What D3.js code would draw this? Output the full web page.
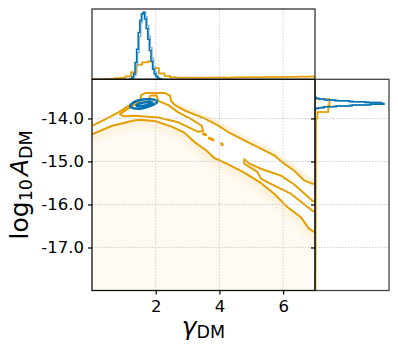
<!DOCTYPE html>
<html>
<head>
<meta charset="utf-8">
<script src="https://cdn.jsdelivr.net/npm/d3@7/dist/d3.min.js"></script>
<style>
  body { margin: 0; background: #fff; }
  svg { display: block; font-family: "DejaVu Sans", sans-serif; }
</style>
</head>
<body>
<div id="chart"></div>
<script>
//Tick values and labels
const xTicks = [2, 4, 6];
const xTickLabels = ['2', '4', '6'];
const yTicks = [-14, -15, -16, -17];
const yTickLabels = ['-14.0', '-15.0', '-16.0', '-17.0'];

//Top marginal: gamma histograms (bin edges, normalised heights)
const blueGammaEdges = [1.20, 1.25, 1.30, 1.35, 1.40, 1.45, 1.50, 1.55, 1.60, 1.65, 1.70, 1.75, 1.80, 1.85, 1.90, 1.95, 2.00, 2.05, 2.10, 2.15];
const blueGammaCounts = [0.01, 0.03, 0.08, 0.25, 0.45, 0.70, 0.88, 0.98, 1.00, 0.90, 0.76, 0.60, 0.43, 0.27, 0.15, 0.08, 0.04, 0.02, 0.01];
const blueGammaCounts2 = [0.00, 0.02, 0.06, 0.20, 0.40, 0.64, 0.85, 0.97, 1.00, 0.93, 0.80, 0.64, 0.47, 0.31, 0.18, 0.10, 0.05, 0.02, 0.01];
const orangeGammaEdges = [0, 0.175, 0.35, 0.525, 0.7, 0.875, 1.05, 1.225, 1.4, 1.575, 1.75, 1.925, 2.1, 2.275, 2.45, 2.625, 2.8, 2.975, 3.15, 3.325, 3.5, 3.675, 3.85, 4.025, 4.2, 4.375, 4.55, 4.725, 4.9, 5.075, 5.25, 5.425, 5.6, 5.775, 5.95, 6.125, 6.3, 6.475, 6.65, 6.825, 7.0];
const orangeGammaCounts = [0, 0, 0.005, 0.01, 0.015, 0.02, 0.04, 0.10, 0.22, 0.25, 0.27, 0.17, 0.09, 0.05, 0.03,
  0.028, 0.025, 0.027, 0.024, 0.026, 0.025, 0.027, 0.028, 0.026, 0.025, 0.027, 0.030, 0.029, 0.031, 0.030,
  0.032, 0.033, 0.035, 0.034, 0.036, 0.038, 0.037, 0.040, 0.039, 0.040];
const orangeGammaCounts2 = [0, 0, 0.004, 0.01, 0.014, 0.022, 0.045, 0.11, 0.21, 0.26, 0.26, 0.16, 0.08, 0.045, 0.032,
  0.026, 0.027, 0.025, 0.026, 0.024, 0.027, 0.026, 0.027, 0.028, 0.026, 0.029, 0.028, 0.031, 0.030, 0.032,
  0.031, 0.035, 0.034, 0.036, 0.035, 0.037, 0.039, 0.038, 0.041, 0.042];

//Right marginal: log10 A histograms
const blueAEdges = [-13.79, -13.77, -13.75, -13.73, -13.71, -13.69, -13.67, -13.65, -13.63, -13.61, -13.59, -13.57, -13.55, -13.53, -13.51];
const blueACounts = [0.01, 0.05, 0.13, 0.30, 0.52, 0.78, 0.97, 0.92, 0.70, 0.48, 0.28, 0.13, 0.05, 0.01];
const blueACounts2 = [0.00, 0.03, 0.10, 0.26, 0.48, 0.74, 0.93, 0.95, 0.76, 0.53, 0.32, 0.16, 0.06, 0.02];
const orangeAEdges = [-18.05, -17.9, -17.75, -17.6, -17.45, -17.3, -17.15, -17.0, -16.85, -16.7, -16.55, -16.4, -16.25, -16.1, -15.95, -15.8, -15.65, -15.5, -15.35, -15.2, -15.05, -14.9, -14.75, -14.6, -14.45, -14.3, -14.15, -14.0, -13.85, -13.7, -13.55, -13.4, -13.25, -13.1];
const orangeACounts = [0.006, 0.007, 0.006, 0.008, 0.007, 0.008, 0.008, 0.009, 0.008, 0.009, 0.010, 0.009, 0.010, 0.011, 0.010, 0.011, 0.012, 0.011, 0.012, 0.012, 0.013, 0.012, 0.013, 0.014, 0.013, 0.014, 0.015, 0.03, 0.19, 0.20, 0, 0, 0];
const orangeACounts2 = [0.007, 0.006, 0.007, 0.007, 0.008, 0.007, 0.009, 0.008, 0.009, 0.008, 0.009, 0.010, 0.011, 0.010, 0.011, 0.010, 0.011, 0.012, 0.013, 0.011, 0.012, 0.013, 0.014, 0.013, 0.014, 0.015, 0.016, 0.04, 0.18, 0.21, 0, 0, 0];

//Main panel: orange contours [gamma, log10 A]
const outerUpper = [[0, -14.17], [0.42, -14.02], [0.83, -13.86], [1.15, -13.71], [1.30, -13.63], [1.51, -13.59], [1.54, -13.46], [1.67, -13.41], [2.29, -13.41], [2.45, -13.47], [2.48, -13.59], [2.60, -13.69], [2.92, -13.82], [3.33, -13.94], [3.53, -14.0], [3.95, -14.16], [4.26, -14.31], [4.78, -14.51], [5.30, -14.70], [5.72, -14.86], [6.03, -15.05], [6.34, -15.21], [6.66, -15.44], [6.92, -15.52], [7.0, -15.52]];
const outerLower = [[0, -14.37], [0.63, -14.17], [1.25, -14.06], [1.46, -14.03], [1.98, -14.06], [2.50, -14.19], [2.90, -14.33], [3.22, -14.55], [3.60, -14.75], [3.84, -14.92], [4.26, -15.06], [4.78, -15.26], [5.30, -15.50], [5.72, -15.75], [6.13, -16.06], [6.55, -16.29], [6.81, -16.56], [7.0, -16.65]];
const middleLoop = [[0.88, -13.90], [1.04, -13.82], [1.25, -13.71], [1.46, -13.64], [1.77, -13.61], [1.82, -13.47], [2.03, -13.46], [2.08, -13.59], [2.40, -13.69], [2.71, -13.86], [3.13, -14.02], [3.44, -14.17], [3.49, -14.29], [3.33, -14.31], [2.71, -14.09], [2.08, -13.98], [1.35, -13.94], [0.99, -13.95], [0.88, -13.90]];
const innerSpike = [[7.0, -15.93], [6.93, -15.92], [6.34, -15.53], [5.93, -15.33], [5.30, -15.17], [4.94, -15.05], [4.78, -14.95], [4.78, -15.05], [5.19, -15.24], [5.30, -15.40], [5.72, -15.56], [6.24, -15.75], [6.93, -16.15], [7.0, -16.16]];
const islands = [[[3.50, -14.36], [3.57, -14.38]], [[3.68, -14.46], [3.80, -14.50]], [[4.07, -14.59], [4.09, -14.61]]];

//Main panel: blue contours
const blueOuter = [[1.20, -13.71], [1.28, -13.64], [1.42, -13.59], [1.62, -13.56], [1.84, -13.555], [2.00, -13.58], [2.03, -13.63], [1.93, -13.68], [1.75, -13.73], [1.55, -13.77], [1.36, -13.77], [1.24, -13.75]];
const blueInner = [[1.40, -13.69], [1.53, -13.645], [1.72, -13.625], [1.87, -13.625], [1.89, -13.655], [1.75, -13.685], [1.57, -13.71], [1.45, -13.715]];

//Upper edge of the sample cloud
const cloudTop = [[0, -14.20], [1.30, -13.65], [1.60, -13.60], [2.30, -13.50], [2.60, -13.62], [2.95, -13.72], [3.35, -13.84], [3.95, -14.05], [4.30, -14.20], [4.80, -14.40], [5.30, -14.58], [5.75, -14.75], [6.05, -14.93], [6.40, -15.10], [6.70, -15.30], [7.0, -15.40]];

const blue = '#0072B2';
const blueLight = '#7fb4d8';
const orange = '#E69F00';
const orangeLight = '#f2c766';

const w = 398;
const h = 354;
const mainL = 92, mainR = 315, mainT = 79.3, mainB = 290.5;
const topT = 9, sideR = 389;

//Scales
const xScale = d3.scaleLinear().domain([0, 7]).range([mainL, mainR]);
const yScale = d3.scaleLinear().domain([-18, -13.09]).range([mainB, mainT]);
const topY = d3.scaleLinear().domain([0, 1.05]).range([mainT, topT]);
const sideX = d3.scaleLinear().domain([0, 1.04]).range([mainR, sideR]);

const svg = d3.select('#chart')
  .append('svg')
  .attr('width', w)
  .attr('height', h);

const defs = svg.append('defs');
defs.append('clipPath').attr('id', 'clipMain')
  .append('rect').attr('x', mainL).attr('y', mainT).attr('width', mainR - mainL).attr('height', mainB - mainT);
defs.append('clipPath').attr('id', 'clipTop')
  .append('rect').attr('x', mainL).attr('y', topT).attr('width', mainR - mainL).attr('height', mainT - topT);
defs.append('clipPath').attr('id', 'clipSide')
  .append('rect').attr('x', mainR).attr('y', mainT).attr('width', sideR - mainR).attr('height', mainB - mainT);
defs.append('filter').attr('id', 'soft')
  .attr('x', '-20%').attr('y', '-20%').attr('width', '140%').attr('height', '140%')
  .append('feGaussianBlur').attr('stdDeviation', 4);

const line = d3.line().x(d => xScale(d[0])).y(d => yScale(d[1]));
const cloudPoly = cloudTop.concat([[7.0, -18], [0, -18]]);
const outerPoly = outerUpper.concat(outerLower.slice().reverse());

//Step outline like a matplotlib step histogram
function stepPoints(edges, counts) {
  const pts = [[edges[0], 0]];
  counts.forEach((c, i) => {
    pts.push([edges[i], c]);
    pts.push([edges[i + 1], c]);
  });
  pts.push([edges[edges.length - 1], 0]);
  return pts;
}

//Main panel
const main = svg.append('g').attr('clip-path', 'url(#clipMain)');

main.append('path')
  .attr('d', line(cloudPoly) + 'Z')
  .attr('fill', orange)
  .attr('fill-opacity', 0.045);

defs.append('clipPath').attr('id', 'clipCloud')
  .append('path').attr('d', line(cloudPoly) + 'Z');

main.append('g').attr('clip-path', 'url(#clipCloud)')
  .append('path')
  .attr('d', line(outerPoly) + 'Z')
  .attr('fill', 'none')
  .attr('stroke', orange)
  .attr('stroke-opacity', 0.11)
  .attr('stroke-width', 14)
  .attr('filter', 'url(#soft)');

main.append('path')
  .attr('d', line(outerPoly) + 'Z')
  .attr('fill', '#fff');

//Grid
function grid(g, xs, ys, x0, x1, y0, y1) {
  g.selectAll('line.gx').data(xs).enter().append('line')
    .attr('x1', d => xScale(d)).attr('x2', d => xScale(d))
    .attr('y1', y0).attr('y2', y1);
  g.selectAll('line.gy').data(ys).enter().append('line')
    .attr('x1', x0).attr('x2', x1)
    .attr('y1', d => yScale(d)).attr('y2', d => yScale(d));
  g.selectAll('line')
    .attr('stroke', '#c4c4c4')
    .attr('stroke-width', 0.8)
    .attr('stroke-dasharray', '1.5,1.5');
}
grid(svg.append('g'), xTicks, yTicks, mainL, mainR, mainT, mainB);
grid(svg.append('g'), xTicks, [], mainL, mainR, topT, mainT);
grid(svg.append('g'), [], yTicks, mainR, sideR, mainT, mainB);

//Orange contours
const contourG = main.append('g')
  .attr('fill', 'none')
  .attr('stroke', orange)
  .attr('stroke-width', 2)
  .attr('stroke-linejoin', 'round')
  .attr('stroke-linecap', 'round');
[outerUpper, outerLower, middleLoop, innerSpike].forEach(c => {
  contourG.append('path').attr('d', line(c));
});
contourG.selectAll('path.island')
  .data(islands)
  .enter()
  .append('path')
  .attr('class', 'island')
  .attr('d', d => line(d))
  .attr('stroke-width', 3);

//Blue contours
const closed = d3.line().x(d => xScale(d[0])).y(d => yScale(d[1])).curve(d3.curveCardinalClosed);
[blueOuter, blueInner].forEach(c => {
  main.append('path')
    .attr('d', closed(c))
    .attr('fill', 'none')
    .attr('stroke', blue)
    .attr('stroke-width', 2.6);
});

//Top marginal histograms
const topLine = d3.line().x(d => xScale(d[0])).y(d => topY(d[1]));
const topG = svg.append('g').attr('clip-path', 'url(#clipTop)').attr('fill', 'none').attr('stroke-width', 1.5);
topG.append('path').attr('d', topLine(stepPoints(orangeGammaEdges, orangeGammaCounts2))).attr('stroke', orangeLight);
topG.append('path').attr('d', topLine(stepPoints(orangeGammaEdges, orangeGammaCounts))).attr('stroke', orange);
topG.append('path').attr('d', topLine(stepPoints(blueGammaEdges.map(e => e + 0.03), blueGammaCounts2))).attr('stroke', blueLight);
topG.append('path').attr('d', topLine(stepPoints(blueGammaEdges, blueGammaCounts))).attr('stroke', blue);

//Right marginal histograms
const sideLine = d3.line().x(d => sideX(d[1])).y(d => yScale(d[0]));
const sideG = svg.append('g').attr('clip-path', 'url(#clipSide)').attr('fill', 'none').attr('stroke-width', 1.5);
sideG.append('path').attr('d', sideLine(stepPoints(orangeAEdges, orangeACounts2))).attr('stroke', orangeLight);
sideG.append('path').attr('d', sideLine(stepPoints(orangeAEdges, orangeACounts))).attr('stroke', orange);
sideG.append('path').attr('d', sideLine(stepPoints(blueAEdges, blueACounts2))).attr('stroke', blueLight);
sideG.append('path').attr('d', sideLine(stepPoints(blueAEdges, blueACounts))).attr('stroke', blue);

//Frames
function frame(x0, y0, x1, y1, col) {
  svg.append('rect')
    .attr('x', x0).attr('y', y0)
    .attr('width', x1 - x0).attr('height', y1 - y0)
    .attr('fill', 'none')
    .attr('stroke', col)
    .attr('stroke-width', 1.3);
}
frame(mainL, topT, mainR, mainT, '#333');
frame(mainR, mainT, sideR, mainB, '#444');
frame(mainL, mainT, mainR, mainB, '#111');

//Axes
const xAxis = d3.axisBottom(xScale).tickValues(xTicks).tickFormat((d, i) => xTickLabels[i]).tickSize(4).tickPadding(6);
const yAxis = d3.axisLeft(yScale).tickValues(yTicks).tickFormat((d, i) => yTickLabels[i]).tickSize(4).tickPadding(4);

svg.append('g')
  .attr('transform', `translate(0, ${mainB})`)
  .attr('id', 'x-axis')
  .call(xAxis);

svg.append('g')
  .attr('transform', `translate(${mainL}, 0)`)
  .attr('id', 'y-axis')
  .call(yAxis);

//ticks of the right marginal pointing into the main panel
svg.append('g')
  .attr('transform', `translate(${mainR}, 0)`)
  .call(d3.axisLeft(yScale).tickValues(yTicks).tickSize(4).tickFormat(''));

svg.selectAll('.domain').remove();
svg.selectAll('.tick line').attr('stroke', '#000').attr('stroke-width', 1.2);
svg.selectAll('.tick text').attr('font-size', 16.5).attr('font-family', '"DejaVu Sans", sans-serif').attr('fill', '#000');

//Axes labels
const xLab = svg.append('text')
  .attr('x', (mainL + mainR) / 2)
  .attr('y', 335)
  .attr('text-anchor', 'middle')
  .attr('font-size', 25);
xLab.append('tspan').attr('font-style', 'italic').text('\u03b3');
xLab.append('tspan').attr('font-size', 17.5).attr('dy', 3).text('DM');

const yLab = svg.append('text')
  .attr('transform', `translate(28, ${(mainT + mainB) / 2}) rotate(-90)`)
  .attr('text-anchor', 'middle')
  .attr('font-size', 25);
yLab.append('tspan').text('log');
yLab.append('tspan').attr('font-size', 17.5).attr('dy', 4).text('10');
yLab.append('tspan').attr('font-style', 'italic').attr('dy', -4).attr('dx', 3).text('A');
yLab.append('tspan').attr('font-size', 17.5).attr('dy', 4).text('DM');
</script>
</body>
</html>
